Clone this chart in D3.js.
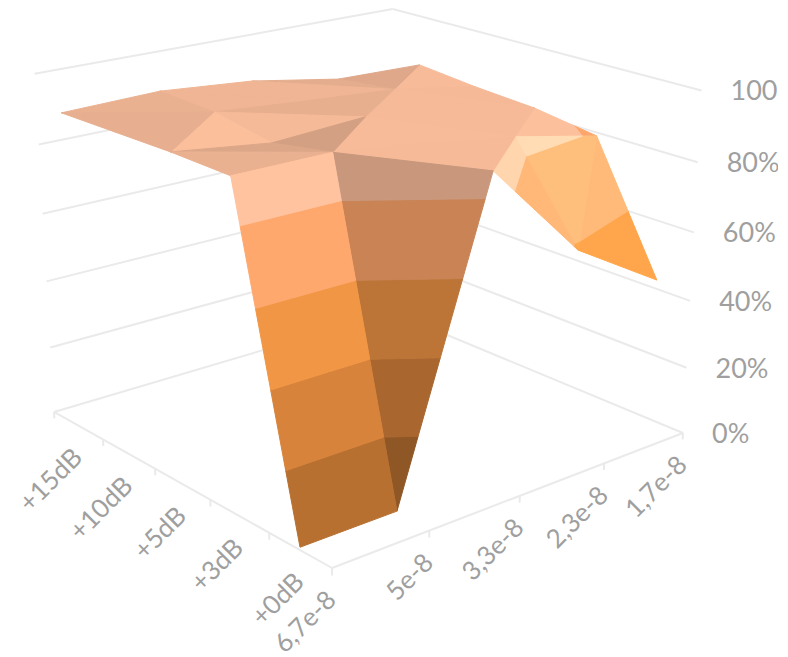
<!DOCTYPE html>
<html>
<head>
<meta charset="utf-8">
<style>
  html, body { margin: 0; background: #fff; }
  text { font-family: Lato, "Open Sans", sans-serif; fill: #9f9f9f; }
</style>
<script src="https://cdn.jsdelivr.net/npm/d3@7/dist/d3.min.js"></script>
</head>
<body>
<div id="chart"></div>
<script>
// categories, front of the floor first
var dbLabels = ['+0dB', '+3dB', '+5dB', '+10dB', '+15dB'];
var timeLabels = ['6,7e-8', '5e-8', '3,3e-8', '2,3e-8', '1,7e-8'];
var valueTicks = [0, 0.2, 0.4, 0.6, 0.8, 1];

// one row per dB level, one value per time label
var row0dB = [0.008, 0.008, 0.869, 0.585, 0.426];
var row3dB = [0.920, 0.920, 0.885, 0.845, 0.790];
var row5dB = [0.923, 0.888, 0.903, 0.860, 0.818];
var row10dB = [0.920, 0.918, 0.895, 0.875, 0.830];
var row15dB = [0.917, 0.924, 0.901, 0.855, 0.848];
var rows = [row0dB, row3dB, row5dB, row10dB, row15dB];

// which diagonal cuts each grid cell: 0 rising, 1 falling
var cellSplit = [
    [1, 1, 0, 0],
    [1, 0, 1, 0],
    [0, 1, 0, 1],
    [1, 1, 1, 0]
];

// colour of each 20% value band, as it looks on a face lit head on
var bandColors = ['#b56e30', '#d5813a', '#ee9444', '#fea66c', '#fec09d'];

var width = 788, height = 657;

var svg = d3.select('#chart').append('svg')
    .attr('width', width)
    .attr('height', height)
    .style('display', 'block');

var xScale = d3.scalePoint().domain(timeLabels).range([0, 1]);
var yScale = d3.scaleBand().domain(dbLabels).range([0, 1]);
var zScale = d3.scaleLinear().domain([0, 1]).range([0, 1]);
var percent = d3.format('.0%');

// perspective camera, maps floor position and height to the screen
var camera = [
    [453.74, -268.93, -25, 332],
    [-69.86, -86.79, -400, 568],
    [0.1504, 0.168, -0.066, 1]
];

function project(p){
    var h = camera.map(function(r){
        return r[0] * p[0] + r[1] * p[1] + r[2] * p[2] + r[3];
    });
    return [h[0] / h[2], h[1] / h[2]];
}

function depth(p){
    var r = camera[2];
    return r[0] * p[0] + r[1] * p[1] + r[2] * p[2] + r[3];
}

var line = d3.line();

function drawEdge(a, b, w){
    svg.append('path')
        .attr('d', line([project(a), project(b)]))
        .attr('fill', 'none')
        .attr('stroke', '#eaeaea')
        .attr('stroke-width', w);
}

// walls and floor
valueTicks.forEach(function(v){
    var z = zScale(v);
    drawEdge([0, 1, z], [1, 1, z], 2);
    drawEdge([1, 1, z], [1, 0, z], 2);
});
drawEdge([0, 0, 0], [0, 1, 0], 2);
drawEdge([0, 0, 0], [1, 0, 0], 2);

// tick marks under the two floor edges
d3.range(0, 1.0001, 1 / dbLabels.length).forEach(function(t){
    drawEdge([0, t, 0], [0, t, -0.02], 2);
});
timeLabels.forEach(function(d){
    drawEdge([xScale(d), 0, 0], [xScale(d), 0, -0.02], 2);
});

// flat shading from the face normal, with a narrow highlight
function shade(a, b, c){
    var u = [b[0] - a[0], b[1] - a[1], (b[2] - a[2]) * 0.9];
    var v = [c[0] - a[0], c[1] - a[1], (c[2] - a[2]) * 0.9];
    var n = [u[1] * v[2] - u[2] * v[1], u[2] * v[0] - u[0] * v[2], u[0] * v[1] - u[1] * v[0]];
    var len = Math.hypot(n[0], n[1], n[2]);
    if(n[2] < 0){ len = -len; }
    n = n.map(function(d){ return d / len; });
    var glow = Math.max(0, -0.3 * n[0] - 0.6 * n[1] + 0.74 * n[2]);
    return 0.465 + 0.2 * n[0] - 0.455 * n[1] + 0.45 * n[2] + 0.25 * Math.pow(glow, 20);
}

function tint(color, k){
    var c = d3.rgb(color);
    return d3.rgb(Math.min(255, c.r * k), Math.min(255, c.g * k), Math.min(255, c.b * k)).formatHex();
}

// keep the part of a polygon on one side of a height level
function clipLevel(poly, level, keepAbove){
    var out = [];
    poly.forEach(function(p, i){
        var q = poly[(i + 1) % poly.length];
        var pIn = keepAbove ? p[2] >= level : p[2] <= level;
        var qIn = keepAbove ? q[2] >= level : q[2] <= level;
        if(pIn){ out.push(p); }
        if(pIn !== qIn){
            var f = (level - p[2]) / (q[2] - p[2]);
            out.push([p[0] + (q[0] - p[0]) * f, p[1] + (q[1] - p[1]) * f, level]);
        }
    });
    return out;
}

function gridPoint(i, j){
    return [xScale(timeLabels[i]), yScale(dbLabels[j]) + yScale.bandwidth() / 2, zScale(rows[j][i])];
}

function drawTriangle(tri){
    var k = shade(tri[0], tri[1], tri[2]);
    bandColors.forEach(function(color, b){
        var lo = b / bandColors.length, hi = (b + 1) / bandColors.length;
        var poly = clipLevel(clipLevel(tri, lo, true), hi, false);
        if(poly.length < 3){ return; }
        var fill = tint(color, k);
        // the stroke closes the hairline seams between neighbouring pieces
        svg.append('path')
            .attr('d', line(poly.map(project)) + 'Z')
            .attr('fill', fill)
            .attr('stroke', fill)
            .attr('stroke-width', 1)
            .attr('stroke-linejoin', 'round');
    });
}

// surface, painted from the far corner to the near one
for(var j = dbLabels.length - 2; j >= 0; j--){
    for(var i = timeLabels.length - 2; i >= 0; i--){
        var p00 = gridPoint(i, j), p10 = gridPoint(i + 1, j);
        var p01 = gridPoint(i, j + 1), p11 = gridPoint(i + 1, j + 1);
        var tris = cellSplit[j][i] === 0
            ? [[p00, p10, p11], [p00, p11, p01]]
            : [[p00, p10, p01], [p10, p11, p01]];
        tris.sort(function(a, b){
            return d3.sum(b, depth) - d3.sum(a, depth);
        });
        tris.forEach(drawTriangle);
    }
}

// the value labels run off the plot area on the right
svg.append('clipPath').attr('id', 'plotClip')
    .append('rect').attr('width', 778).attr('height', height);

svg.append('g').attr('clip-path', 'url(#plotClip)')
    .selectAll('text')
    .data(valueTicks)
    .join('text')
    .attr('x', function(d){ return project([1, 0, zScale(d)])[0] + 29; })
    .attr('y', function(d){ return project([1, 0, zScale(d)])[1] + 3; })
    .attr('dominant-baseline', 'middle')
    .style('font-size', '27px')
    .text(percent);

function slantedLabels(data, position){
    svg.append('g').selectAll('text')
        .data(data)
        .join('text')
        .attr('transform', function(d){
            var p = project(position(d));
            return 'translate(' + (p[0] + 1) + ',' + (p[1] + 29) + ') rotate(-45)';
        })
        .attr('text-anchor', 'end')
        .attr('dominant-baseline', 'middle')
        .style('font-size', '26px')
        .text(function(d){ return d; });
}

slantedLabels(dbLabels, function(d){ return [0, yScale(d) + yScale.bandwidth() / 2, 0]; });
slantedLabels(timeLabels, function(d){ return [xScale(d), 0, 0]; });
</script>
</body>
</html>
